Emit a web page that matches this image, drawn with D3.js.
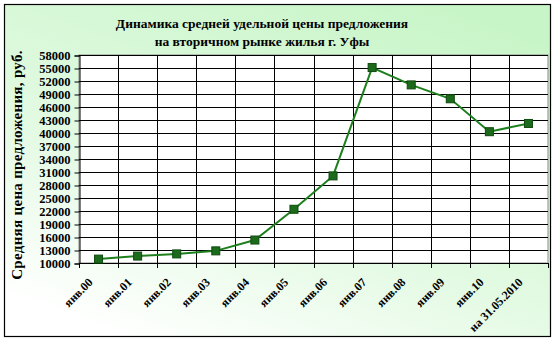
<!DOCTYPE html>
<html>
<head>
<meta charset="utf-8">
<script src="https://cdn.jsdelivr.net/npm/d3@7"></script>
<style>
  body { margin: 0; background: #fff; }
  svg { display: block; }
  text { font-family: "Liberation Serif", "Times New Roman", serif; font-weight: bold; fill: #000; }
</style>
</head>
<body>
<svg width="555" height="342"></svg>
<script>
// данные графика
let categories = ["янв.00", "янв.01", "янв.02", "янв.03", "янв.04", "янв.05", "янв.06",
                  "янв.07", "янв.08", "янв.09", "янв.10", "на 31.05.2010"];
let prices = [10900, 11600, 12100, 12800, 15300, 22400, 30100, 55100, 51100, 47900, 40300, 42200];
let yTicks = [10000, 13000, 16000, 19000, 22000, 25000, 28000, 31000, 34000, 37000,
              40000, 43000, 46000, 49000, 52000, 55000, 58000];
let titleLines = ["Динамика средней удельной цены предложения", "на вторичном рынке жилья г. Уфы"];
let yTitle = "Средняя цена предложения, руб.";

let w = 555;
let h = 342;
let pLeft = 79, pRight = 548, pTop = 55, pBottom = 263;

let svg = d3.select("svg");

// фон с градиентом
let defs = svg.append("defs");
let grad = defs.append("linearGradient")
    .attr("id", "bg")
    .attr("x1", "0.2").attr("y1", "1")
    .attr("x2", "0.8").attr("y2", "0");
grad.append("stop").attr("offset", "0").attr("stop-color", "#ffffff");
grad.append("stop").attr("offset", "0.4").attr("stop-color", "#e3fae3");
grad.append("stop").attr("offset", "1").attr("stop-color", "#c8f5c8");

svg.append("rect")
    .attr("x", 4.5).attr("y", 4.5)
    .attr("width", 546).attr("height", 332)
    .attr("fill", "url(#bg)")
    .attr("stroke", "#000")
    .attr("stroke-width", 1.2);

let xScale = d3.scaleBand()
    .domain(categories)
    .range([pLeft, pRight]);

let yScale = d3.scaleLinear()
    .domain([d3.min(yTicks), d3.max(yTicks)])
    .range([pBottom, pTop]);

// область построения
svg.append("rect")
    .attr("x", pLeft).attr("y", pTop)
    .attr("width", pRight - pLeft).attr("height", pBottom - pTop)
    .attr("fill", "#fff")
    .attr("stroke", "#888")
    .attr("stroke-width", 1);

// сетка
svg.append("g")
    .selectAll("line")
    .data(yTicks)
    .enter()
    .append("line")
    .attr("x1", pLeft).attr("x2", pRight)
    .attr("y1", d => Math.round(yScale(d)) + 0.5)
    .attr("y2", d => Math.round(yScale(d)) + 0.5)
    .attr("stroke", "#000");

svg.append("g")
    .selectAll("line")
    .data(categories.slice(1))
    .enter()
    .append("line")
    .attr("x1", d => Math.round(xScale(d)) + 0.5)
    .attr("x2", d => Math.round(xScale(d)) + 0.5)
    .attr("y1", pTop).attr("y2", pBottom)
    .attr("stroke", "#000");

// оси
let yAxis = d3.axisLeft(yScale)
    .tickValues(yTicks)
    .tickSize(5)
    .tickPadding(4)
    .tickFormat(d3.format("d"));
svg.append("g")
    .attr("id", "y-axis")
    .attr("transform", "translate(" + (pLeft + 0.5) + ",0.5)")
    .call(yAxis)
    .call(g => g.selectAll("text").style("font-size", "12.5px"));

let xAxis = d3.axisBottom(xScale)
    .tickSize(0)
    .tickFormat("");
let xg = svg.append("g")
    .attr("id", "x-axis")
    .attr("transform", "translate(0," + (pBottom + 0.5) + ")")
    .call(xAxis);
xg.select(".domain").attr("d", "M" + pLeft + ",0H" + pRight);

// засечки между категориями
svg.append("g")
    .selectAll("line")
    .data(categories.concat(["end"]))
    .enter()
    .append("line")
    .attr("x1", (d, i) => Math.round(pLeft + i * xScale.step()) + 0.5)
    .attr("x2", (d, i) => Math.round(pLeft + i * xScale.step()) + 0.5)
    .attr("y1", pBottom).attr("y2", pBottom + 5)
    .attr("stroke", "#000");

// подписи категорий
svg.append("g")
    .selectAll("text")
    .data(categories)
    .enter()
    .append("text")
    .attr("text-anchor", "end")
    .style("font-size", "12px")
    .attr("transform", d => "translate(" + (xScale(d) + xScale.bandwidth() / 2 - 5) + "," + (pBottom + 20) + ") rotate(-45)")
    .text(d => d);

// линия
let line = d3.line()
    .x((d, i) => xScale(categories[i]) + xScale.bandwidth() / 2)
    .y(d => yScale(d));

svg.append("path")
    .datum(prices)
    .attr("d", line)
    .attr("fill", "none")
    .attr("stroke", "#1d7f1d")
    .attr("stroke-width", 2);

svg.append("g")
    .selectAll("rect")
    .data(prices)
    .enter()
    .append("rect")
    .attr("x", (d, i) => xScale(categories[i]) + xScale.bandwidth() / 2 - 4)
    .attr("y", d => yScale(d) - 4)
    .attr("width", 8).attr("height", 8)
    .attr("fill", "#1c6b1c")
    .attr("stroke", "#0e4a0e")
    .attr("stroke-width", 1);

// заголовок
svg.append("g")
    .selectAll("text")
    .data(titleLines)
    .enter()
    .append("text")
    .attr("x", 262)
    .attr("y", (d, i) => 28 + i * 18)
    .attr("text-anchor", "middle")
    .style("font-size", "13.5px")
    .text(d => d);

svg.append("text")
    .attr("transform", "translate(22,165) rotate(-90)")
    .attr("text-anchor", "middle")
    .style("font-size", "15px")
    .style("letter-spacing", "0.3px")
    .text(yTitle);
</script>
</body>
</html>
